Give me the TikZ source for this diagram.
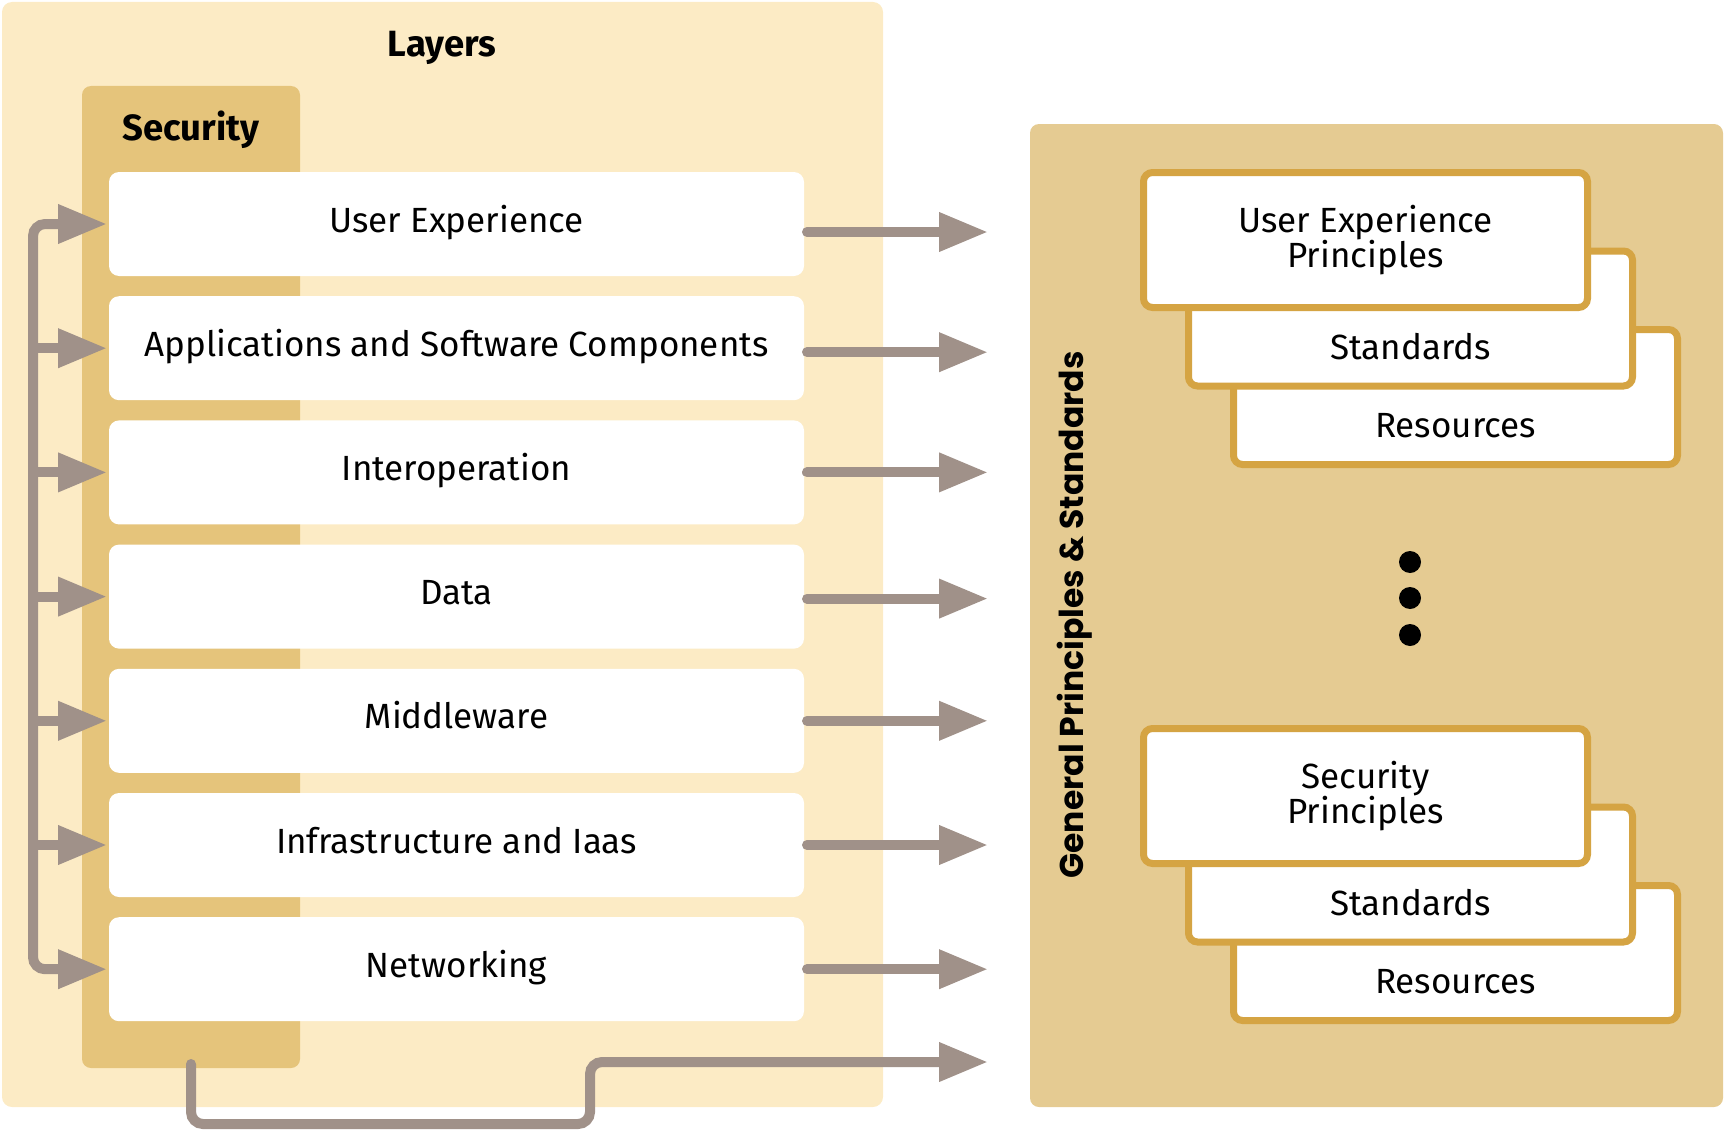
\documentclass[tikz,border=0pt]{standalone}
\usepackage{fontspec}
\setmainfont{Fira Sans}
\newfontfamily\popfont{Poppins}
\usetikzlibrary{arrows.meta,calc}
\definecolor{layerbg}{HTML}{FCEBC5}
\definecolor{secbg}{HTML}{E5C47B}
\definecolor{panelbg}{HTML}{E5CB92}
\definecolor{gold}{HTML}{D5A443}
\definecolor{arrowgray}{HTML}{A09189}
\begin{document}
\begin{tikzpicture}[x=1pt,y=-1pt,
  every node/.style={inner sep=0pt, outer sep=0pt},
  bodytext/.style={font=\fontsize{35}{33}\selectfont},
  titletext/.style={font=\bfseries\fontsize{36.5}{36}\selectfont},
  rowbox/.style={fill=white, rounded corners=10pt, minimum width=695pt, minimum height=104pt, bodytext, text height=23pt, text depth=7pt},
  stackbox/.style={fill=white, draw=gold, line width=7pt, rounded corners=9pt, minimum width=444pt, minimum height=135pt},
  gline/.style={draw=arrowgray, line width=10pt, line cap=round},
  gtip/.style={-{Triangle[length=49pt,width=37pt]}},
  gtips/.style={{Triangle[length=49pt,width=37pt]}-{Triangle[length=49pt,width=37pt]}},
]
\useasboundingbox (0,0) rectangle (1725,1132);

% Layers panel
\node[fill=layerbg, rounded corners=10pt, minimum width=881pt, minimum height=1105pt, anchor=north west] (layers) at (2,2) {};
\node[titletext, anchor=base] (ltitle) at (442,57) {Layers};
\node[fill=secbg, rounded corners=9pt, minimum width=218pt, minimum height=982pt, anchor=north west] (sec) at (82,86) {};
\node[titletext, anchor=base] (stitle) at (191,140) {Security};

\node[rowbox, anchor=north west] (r1) at (109,172.0) {User Experience};
\node[rowbox, anchor=north west] (r2) at (109,296.2) {Applications and Software Components};
\node[rowbox, anchor=north west] (r3) at (109,420.4) {Interoperation};
\node[rowbox, anchor=north west] (r4) at (109,544.6) {Data};
\node[rowbox, anchor=north west] (r5) at (109,668.8) {Middleware};
\node[rowbox, anchor=north west] (r6) at (109,793.0) {Infrastructure and Iaas};
\node[rowbox, anchor=north west] (r7) at (109,917.2) {Networking};

% Principles panel
\node[fill=panelbg, rounded corners=9pt, minimum width=693pt, minimum height=983pt, anchor=north west] (panel) at (1030,124) {};
\node[font=\popfont\bfseries\fontsize{33}{33}\selectfont, rotate=90] (ptitle) at (1075,615) {General Principles \& Standards};

\node[stackbox] (c1) at (1455.5,397) {};
\node[stackbox] (b1) at (1410.5,318.5) {};
\node[stackbox, bodytext, align=center] (a1) at (1365.5,240) {User Experience\\Principles};
\node[bodytext] (b1t) at ($(b1.south)!0.5!(b1.south |- a1.south)$) {Standards};
\node[bodytext] (c1t) at ($(c1.south)!0.5!(c1.south |- b1.south)$) {Resources};

\fill (1410,562) circle (11pt);
\fill (1410,598) circle (11pt);
\fill (1410,635) circle (11pt);

\node[stackbox] (c2) at (1455.5,953) {};
\node[stackbox] (b2) at (1410.5,874.5) {};
\node[stackbox, bodytext, align=center] (a2) at (1365.5,796) {Security\\Principles};
\node[bodytext] (b2t) at ($(b2.south)!0.5!(b2.south |- a2.south)$) {Standards};
\node[bodytext] (c2t) at ($(c2.south)!0.5!(c2.south |- b2.south)$) {Resources};

% connectors
\coordinate (bus) at (33,0);
\coordinate (tipx) at (988,0);
\coordinate (low) at (0,1124);
\coordinate (midx) at (590,0);
\coordinate (tip8) at (988,1062);

\draw[gline, gtips, rounded corners=12pt] ($(r7.west)+(-2,0)$) -- (bus |- r7.west) -- (bus |- r1.west) -- ($(r1.west)+(-2,0)$);
\foreach \i in {2,...,6} {
  \draw[gline, gtip] (bus |- r\i.west) -- ($(r\i.west)+(-2,0)$);
}
\foreach \i/\dy in {1/8,2/4,3/0,4/2,5/0,6/0,7/0} {
  \draw[gline, gtip] ($(r\i.east)+(3,\dy)$) -- ($(r\i.east -| tipx)+(0,\dy)$);
}
\draw[gline, gtip, rounded corners=12pt] ($(sec.south)+(0,-4)$) -- (sec.south |- low) -- (midx |- low) -- (midx |- tip8) -- (tip8);
\end{tikzpicture}
\end{document}
